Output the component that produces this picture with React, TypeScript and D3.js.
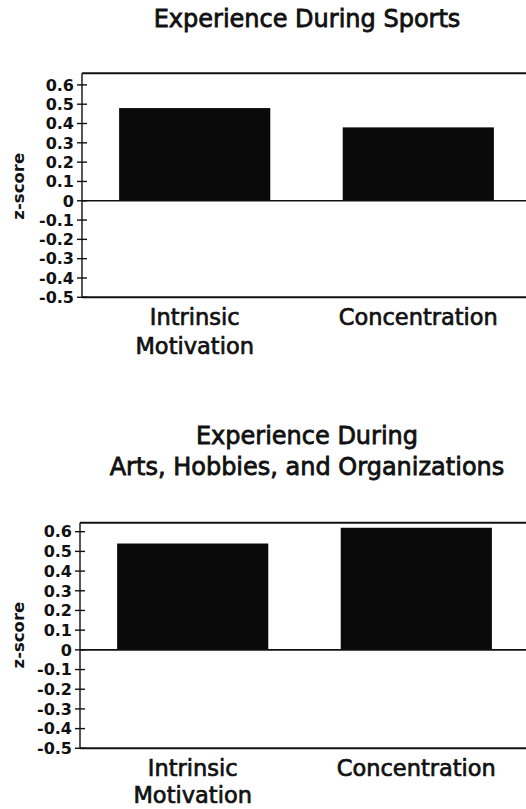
import React from 'react';
import * as d3 from 'd3';

const categories = ['Intrinsic Motivation', 'Concentration'];
const categoryLines = [['Intrinsic', 'Motivation'], ['Concentration']];
const sportsValues = [0.48, 0.38];
const artsValues = [0.54, 0.62];
const yTicks = [0.6, 0.5, 0.4, 0.3, 0.2, 0.1, 0, -0.1, -0.2, -0.3, -0.4, -0.5];
const sportsTitle = ['Experience During Sports'];
const artsTitle = ['Experience During', 'Arts, Hobbies, and Organizations'];

const W = 526;
const H = 809;
const FONT = '"DejaVu Sans", sans-serif';
const INK = '#111';

type PanelProps = {
  title: string[];
  values: number[];
  titleY: number;
  axisX: number;
  yTop: number; // pixel of 0.6
  yBottom: number; // pixel of -0.5
  frameTopValue: number;
  labelGap: number;
};

const tickLabel = (v: number) => (v === 0 ? '0' : v.toFixed(1));

const Panel: React.FC<PanelProps> = ({
  title,
  values,
  titleY,
  axisX,
  yTop,
  yBottom,
  frameTopValue,
  labelGap,
}) => {
  const y = d3.scaleLinear().domain([-0.5, 0.6]).range([yBottom, yTop]);
  const x = d3
    .scaleBand<string>()
    .domain(categories)
    .range([axisX, axisX + 449])
    .paddingInner(0.324)
    .paddingOuter(0.166);

  const frameTop = y(frameTopValue);
  const zero = y(0);

  return (
    <g>
      {/* title */}
      {title.map((t, i) => (
        <text
          key={t}
          x={307}
          y={titleY + i * 31}
          textAnchor="middle"
          fontFamily={FONT}
          fontSize={24}
          fill={INK}
          stroke={INK}
          strokeWidth={0.8}
        >
          {t}
        </text>
      ))}

      {/* bars */}
      {values.map((v, i) => (
        <rect
          key={categories[i]}
          x={x(categories[i])}
          y={y(v)}
          width={x.bandwidth()}
          height={zero - y(v)}
          fill="#0a0a0a"
        />
      ))}

      {/* frame */}
      <line x1={axisX} x2={W} y1={frameTop} y2={frameTop} stroke={INK} strokeWidth={2} />
      <line x1={axisX} x2={W} y1={yBottom} y2={yBottom} stroke={INK} strokeWidth={2} />
      <line x1={axisX} x2={W} y1={zero} y2={zero} stroke={INK} strokeWidth={1.6} />
      <line x1={axisX} x2={axisX} y1={frameTop} y2={yBottom} stroke={INK} strokeWidth={1.4} />

      {/* ticks */}
      {yTicks.map(t => (
        <g key={t} transform={`translate(0,${y(t)})`}>
          <line x1={axisX - 5} x2={axisX + 5} stroke={INK} strokeWidth={1.4} />
          <text
            x={axisX - 8}
            dy="0.36em"
            textAnchor="end"
            fontFamily={FONT}
            fontWeight="bold"
            fontSize={16}
            fill={INK}
          >
            {tickLabel(t)}
          </text>
        </g>
      ))}

      {/* y label */}
      <text
        transform={`translate(24,${y(0.075)}) rotate(-90)`}
        textAnchor="middle"
        fontFamily={FONT}
        fontWeight="bold"
        fontSize={16.5}
        fill={INK}
      >
        z-score
      </text>

      {/* category labels */}
      {categoryLines.map((lines, i) => (
        <g key={categories[i]}>
          {lines.map((l, j) => (
            <text
              key={l}
              x={(x(categories[i]) ?? 0) + x.bandwidth() / 2}
              y={yBottom + 28 + j * labelGap}
              textAnchor="middle"
              fontFamily={FONT}
              fontSize={22.5}
              fill={INK}
              stroke={INK}
              strokeWidth={0.7}
            >
              {l}
            </text>
          ))}
        </g>
      ))}
    </g>
  );
};

export default function App() {
  return (
    <svg
      width={W}
      height={H}
      viewBox={`0 0 ${W} ${H}`}
      style={{ position: 'absolute', left: 0, top: 0, background: '#fff' }}
    >
      <rect width={W} height={H} fill="#fff" />
      <Panel
        title={sportsTitle}
        values={sportsValues}
        titleY={27}
        axisX={82}
        yTop={84.9}
        yBottom={297.3}
        frameTopValue={0.66}
        labelGap={29}
      />
      <Panel
        title={artsTitle}
        values={artsValues}
        titleY={444}
        axisX={80}
        yTop={531.7}
        yBottom={748.3}
        frameTopValue={0.645}
        labelGap={27}
      />
    </svg>
  );
}
